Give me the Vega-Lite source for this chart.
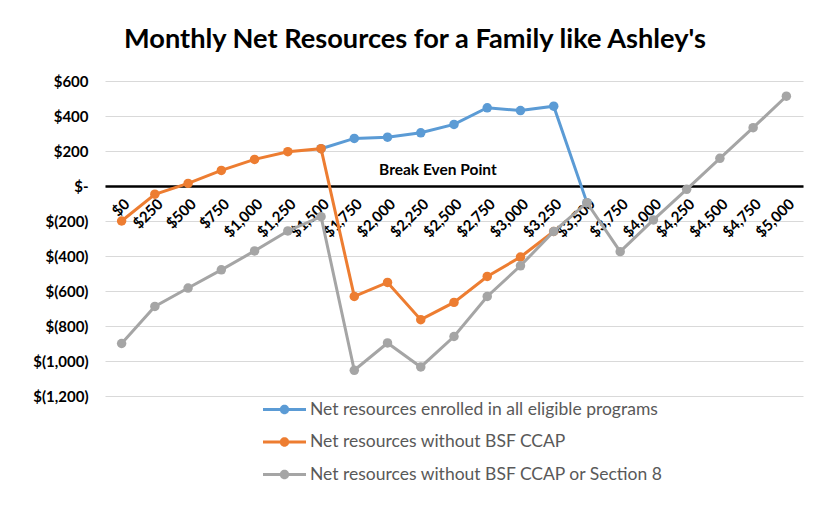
{
  "$schema": "https://vega.github.io/schema/vega-lite/v6.json",
  "autosize": "none",
  "width": 698,
  "height": 315,
  "padding": {"left": 105, "top": 81, "right": 11, "bottom": 124},
  "background": "white",
  "title": {"text": "Monthly Net Resources for a Family like Ashley's", "font": "Lato", "fontSize": 27.2, "fontWeight": "bold", "color": "black", "anchor": "middle", "dx": -39, "offset": 20},
  "config": {"view": {"stroke": null}, "font": "Lato"},
  "data": {"values": [
    {"income": 1500, "series": "Net resources enrolled in all eligible programs", "value": 213},
    {"income": 1750, "series": "Net resources enrolled in all eligible programs", "value": 272},
    {"income": 2000, "series": "Net resources enrolled in all eligible programs", "value": 279},
    {"income": 2250, "series": "Net resources enrolled in all eligible programs", "value": 304},
    {"income": 2500, "series": "Net resources enrolled in all eligible programs", "value": 352},
    {"income": 2750, "series": "Net resources enrolled in all eligible programs", "value": 447},
    {"income": 3000, "series": "Net resources enrolled in all eligible programs", "value": 431},
    {"income": 3250, "series": "Net resources enrolled in all eligible programs", "value": 456},
    {"income": 3500, "series": "Net resources enrolled in all eligible programs", "value": -95},
    {"income": 0, "series": "Net resources without BSF CCAP", "value": -200},
    {"income": 250, "series": "Net resources without BSF CCAP", "value": -47},
    {"income": 500, "series": "Net resources without BSF CCAP", "value": 15},
    {"income": 750, "series": "Net resources without BSF CCAP", "value": 89},
    {"income": 1000, "series": "Net resources without BSF CCAP", "value": 152},
    {"income": 1250, "series": "Net resources without BSF CCAP", "value": 196},
    {"income": 1500, "series": "Net resources without BSF CCAP", "value": 213},
    {"income": 1750, "series": "Net resources without BSF CCAP", "value": -631},
    {"income": 2000, "series": "Net resources without BSF CCAP", "value": -551},
    {"income": 2250, "series": "Net resources without BSF CCAP", "value": -764},
    {"income": 2500, "series": "Net resources without BSF CCAP", "value": -665},
    {"income": 2750, "series": "Net resources without BSF CCAP", "value": -517},
    {"income": 3000, "series": "Net resources without BSF CCAP", "value": -406},
    {"income": 3250, "series": "Net resources without BSF CCAP", "value": -260},
    {"income": 0, "series": "Net resources without BSF CCAP or Section 8", "value": -900},
    {"income": 250, "series": "Net resources without BSF CCAP or Section 8", "value": -688},
    {"income": 500, "series": "Net resources without BSF CCAP or Section 8", "value": -583},
    {"income": 750, "series": "Net resources without BSF CCAP or Section 8", "value": -479},
    {"income": 1000, "series": "Net resources without BSF CCAP or Section 8", "value": -371},
    {"income": 1250, "series": "Net resources without BSF CCAP or Section 8", "value": -257},
    {"income": 1500, "series": "Net resources without BSF CCAP or Section 8", "value": -175},
    {"income": 1750, "series": "Net resources without BSF CCAP or Section 8", "value": -1053},
    {"income": 2000, "series": "Net resources without BSF CCAP or Section 8", "value": -897},
    {"income": 2250, "series": "Net resources without BSF CCAP or Section 8", "value": -1034},
    {"income": 2500, "series": "Net resources without BSF CCAP or Section 8", "value": -860},
    {"income": 2750, "series": "Net resources without BSF CCAP or Section 8", "value": -631},
    {"income": 3000, "series": "Net resources without BSF CCAP or Section 8", "value": -456},
    {"income": 3250, "series": "Net resources without BSF CCAP or Section 8", "value": -260},
    {"income": 3500, "series": "Net resources without BSF CCAP or Section 8", "value": -95},
    {"income": 3750, "series": "Net resources without BSF CCAP or Section 8", "value": -375},
    {"income": 4000, "series": "Net resources without BSF CCAP or Section 8", "value": -194},
    {"income": 4250, "series": "Net resources without BSF CCAP or Section 8", "value": -19},
    {"income": 4500, "series": "Net resources without BSF CCAP or Section 8", "value": 158},
    {"income": 4750, "series": "Net resources without BSF CCAP or Section 8", "value": 333},
    {"income": 5000, "series": "Net resources without BSF CCAP or Section 8", "value": 513}
  ]},
  "encoding": {
    "x": {"field": "income", "type": "quantitative",
      "scale": {"domain": [-125, 5125], "nice": false, "zero": false},
      "axis": {"title": null, "values": [0,250,500,750,1000,1250,1500,1750,2000,2250,2500,2750,3000,3250,3500,3750,4000,4250,4500,4750,5000],
        "format": "$,.0f", "labelAngle": -45, "labelFont": "Lato", "labelFontSize": 15, "labelFontWeight": "bold", "labelColor": "black",
        "grid": false, "ticks": false, "domainColor": "black", "domainWidth": 2.5, "offset": -210, "labelPadding": 10, "labelOverlap": false, "labelBound": false, "labelFlush": false}},
    "y": {"field": "value", "type": "quantitative",
      "scale": {"domain": [-1200, 600], "nice": false},
      "axis": {"title": null, "values": [-1200,-1000,-800,-600,-400,-200,0,200,400,600],
        "labelExpr": "datum.value == 0 ? '$-' : (datum.value < 0 ? '$(' + format(-datum.value, ',') + ')' : '$' + format(datum.value, ','))",
        "labelFont": "Lato", "labelFontSize": 15, "labelFontWeight": "bold", "labelColor": "black",
        "domain": false, "ticks": false, "gridColor": "#d9d9d9", "gridWidth": 1, "labelPadding": 17}},
    "color": {"field": "series", "type": "nominal",
      "scale": {"domain": ["Net resources enrolled in all eligible programs", "Net resources without BSF CCAP", "Net resources without BSF CCAP or Section 8"], "range": ["#5B9BD5", "#ED7D31", "#A5A5A5"]},
      "legend": {"title": null, "orient": "none", "legendX": 158, "legendY": 307, "direction": "vertical",
        "symbolType": "M-1,-0.07 H1 V0.07 H-1 Z M-0.22,0 A0.22,0.22 0 1,1 0.22,0 A0.22,0.22 0 1,1 -0.22,0 Z",
        "symbolSize": 1849, "symbolStrokeWidth": 0, "labelFont": "Lato", "labelFontSize": 17.5, "labelColor": "#595959", "labelOffset": 4, "rowPadding": 2.5, "labelLimit": 0,
        "encode": {"symbols": {"update": {"fill": {"scale": "color", "field": "value"}, "fillOpacity": {"value": 1}, "strokeWidth": {"value": 0}}}}}
    }
  },
  "layer": [
    {"transform": [{"filter": "datum.series == 'Net resources enrolled in all eligible programs'"}], "mark": {"type": "line", "strokeWidth": 3}},
    {"transform": [{"filter": "datum.series == 'Net resources enrolled in all eligible programs'"}], "mark": {"type": "point", "filled": true, "size": 90, "opacity": 1}},
    {"transform": [{"filter": "datum.series == 'Net resources without BSF CCAP'"}], "mark": {"type": "line", "strokeWidth": 3}},
    {"transform": [{"filter": "datum.series == 'Net resources without BSF CCAP'"}], "mark": {"type": "point", "filled": true, "size": 90, "opacity": 1}},
    {"transform": [{"filter": "datum.series == 'Net resources without BSF CCAP or Section 8'"}], "mark": {"type": "line", "strokeWidth": 3}},
    {"transform": [{"filter": "datum.series == 'Net resources without BSF CCAP or Section 8'"}], "mark": {"type": "point", "filled": true, "size": 90, "opacity": 1}},
    {"data": {"values": [{"label": "Break Even Point", "income": 2379, "value": 91}]},
     "mark": {"type": "text", "font": "Lato", "fontSize": 15.5, "fontWeight": "bold", "color": "black", "baseline": "middle", "align": "center"},
     "encoding": {"text": {"field": "label"}, "color": {"value": "black"}}}
  ]
}
